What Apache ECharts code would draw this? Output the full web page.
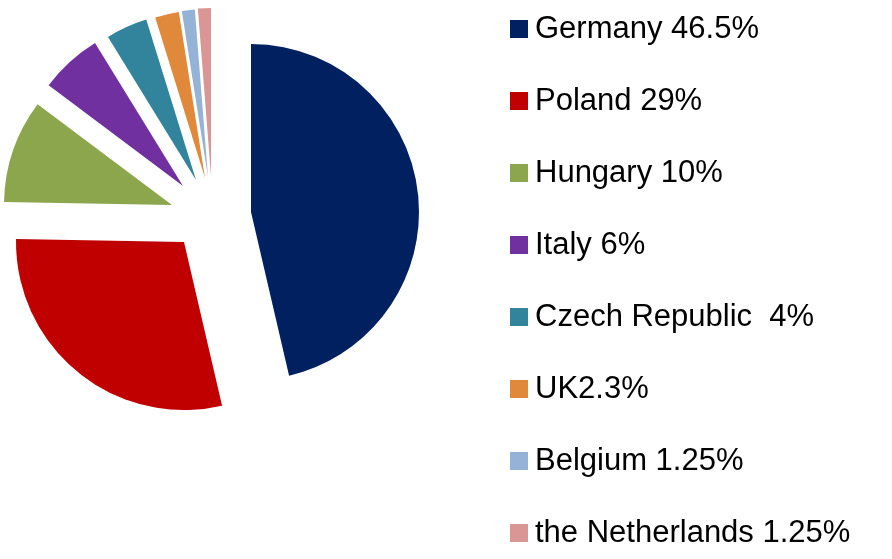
<!DOCTYPE html>
<html><head><meta charset="utf-8">
<script src="https://cdn.jsdelivr.net/npm/echarts@6/dist/echarts.min.js"></script>
<style>html,body{margin:0;padding:0;background:#fff}#c{width:892px;height:559px}</style>
</head><body><div id="c"></div>
<script>
const labels = ['Germany 46.5%','Poland 29%','Hungary 10%','Italy 6%','Czech Republic  4%','UK2.3%','Belgium 1.25%','the Netherlands 1.25%'];
const values = [46.5, 29, 10, 6, 4, 2.3, 1.25, 1.25];
const colors = ['#002060','#C00000','#8BA64D','#7030A0','#31849B','#E0893A','#95B3D7','#D99694'];
// exploded slice apex positions (layout)
const centers = [[251,212],[184,242],[172,205],[183,186],[196,180],[205,178],[208,177],[211,176]];
const total = values.reduce((a,b)=>a+b,0);
let cum = 0;
const series = values.map((v,i)=>{
  const start = 90 - cum/total*360;
  cum += v;
  return {
    type:'pie', name:labels[i], radius:[0,168], center:centers[i], startAngle:start, clockwise:true,
    silent:true, animation:false, label:{show:false}, labelLine:{show:false}, emphasis:{disabled:true},
    data:[{name:labels[i], value:v, itemStyle:{color:colors[i]}},
          {name:'_f'+i, value:total-v, itemStyle:{color:'rgba(0,0,0,0)'}}]
  };
});
const chart = echarts.init(document.getElementById('c'));
chart.setOption({
  animation:false,
  legend:{data:labels.map((n,i)=>({name:n, itemStyle:{color:colors[i]}})),
    orient:'vertical', left:505, top:6, height:556, itemWidth:18, itemHeight:18, itemGap:36, icon:'rect',
    selectedMode:false,
    textStyle:{fontFamily:'Liberation Sans', fontSize:31, color:'#000', lineHeight:36, padding:[0,0,0,2]}},
  series
});
</script></body></html>
